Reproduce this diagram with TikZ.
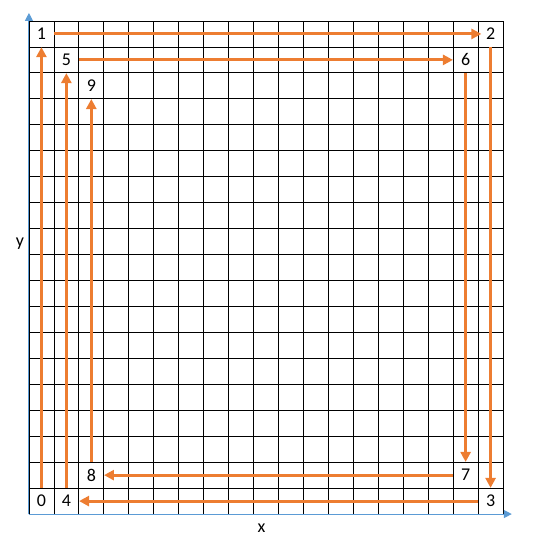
\documentclass[tikz,border=0pt]{standalone}
\usepackage{fontspec}
\setmainfont{Carlito}
\usepackage{tikz}
\usetikzlibrary{arrows.meta, positioning}
\usepackage{xcolor}
\definecolor{axisblue}{RGB}{91,155,213}
\definecolor{pathorange}{RGB}{237,125,49}

\begin{document}
\begin{tikzpicture}[x=25pt, y=26pt,
    cell/.style={minimum width=25pt, minimum height=26pt, inner sep=0pt, font=\fontsize{18}{20}\selectfont},
    flow/.style={pathorange, line width=3pt, -{Triangle[width=10pt,length=10pt]}},
    axis/.style={axisblue, line width=1pt, -{Triangle[width=8pt,length=8pt]}}]
  \useasboundingbox (-1.16,-1.154) rectangle (20.16,19.808);
  \foreach \i in {0,...,19} {
    \draw[line width=0.8pt] (\i,0) -- (\i,19);
    \draw[line width=0.8pt] (0,\i) -- (19,\i);
  }
  \draw[axis] (0,0) -- (0,19.31);
  \draw[axis] (0,0) -- (19.35,0);
  \node[cell] (n0) at (0.5,0.5) {0};
  \node[cell] (n1) at (0.5,18.5) {1};
  \node[cell] (n2) at (18.5,18.5) {2};
  \node[cell] (n3) at (18.5,0.5) {3};
  \node[cell] (n4) at (1.5,0.5) {4};
  \node[cell] (n5) at (1.5,17.5) {5};
  \node[cell] (n6) at (17.5,17.5) {6};
  \node[cell] (n7) at (17.5,1.5) {7};
  \node[cell] (n8) at (2.5,1.5) {8};
  \node[cell] (n9) at (2.5,16.5) {9};
  \draw[flow, shorten >=-3.5pt] (n1) -- (n2);
  \foreach \a/\b in {0/1,2/3,3/4,4/5,5/6,6/7,7/8,8/9}
    \draw[flow] (n\a) -- (n\b);
  \node[cell] (ylab) at (-0.36,10.42) {y};
  \node[cell] (xlab) at (9.32,-0.54) {x};
\end{tikzpicture}
\end{document}
